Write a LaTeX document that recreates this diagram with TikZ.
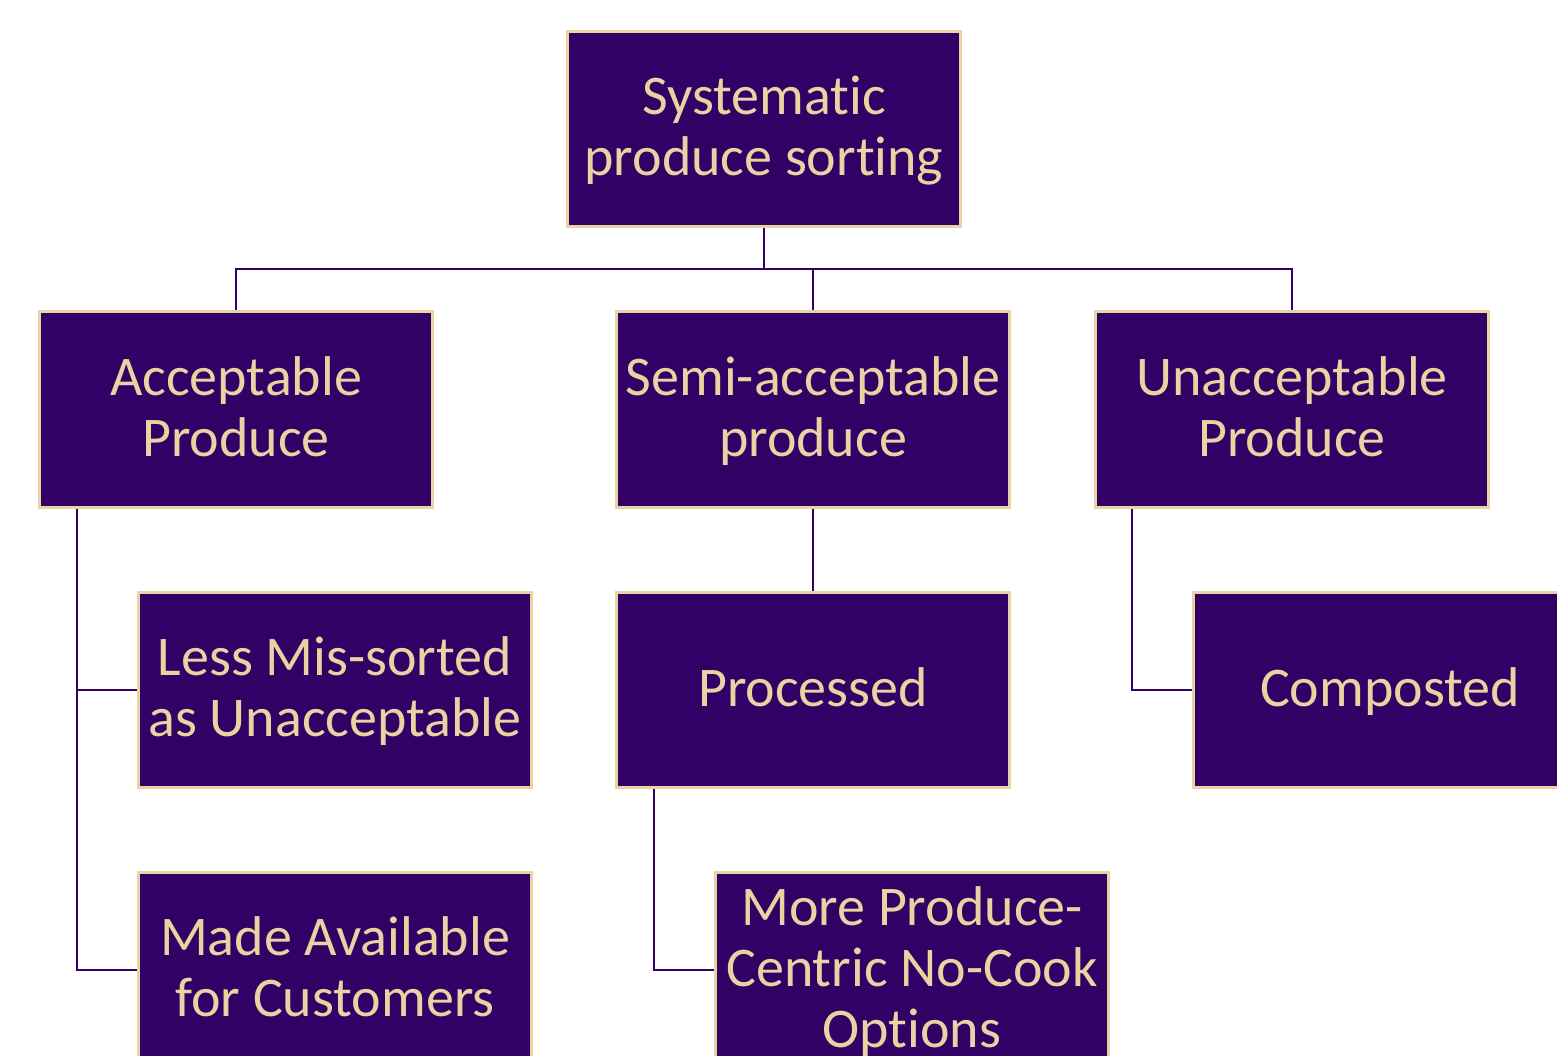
\documentclass[tikz,border=0pt]{standalone}
\usepackage{fontspec}
\setmainfont[Ligatures=NoCommon]{Carlito}
\definecolor{uwpurple}{HTML}{330066}
\definecolor{uwgold}{HTML}{E8D3A2}
\newcommand\fstrut{\rule[-18.3pt]{0pt}{69pt}}
\begin{document}
\begin{tikzpicture}[x=1pt,y=-1pt,
  box/.style={draw=uwgold, line width=3pt, fill=uwpurple, text=uwgold,
    minimum width=393pt, minimum height=195pt, inner sep=0pt, align=center,
    font=\fontsize{56}{61}\selectfont},
  link/.style={draw=uwpurple, line width=2.5pt}]
\useasboundingbox (0,0) rectangle (1557,1056);
\clip (0,0) rectangle (1557,1056);
\node[box] (top) at (764,129) {\fstrut Systematic\\\strut produce sorting};
\node[box] (acc) at (236,409.5) {\fstrut Acceptable\\\strut Produce};
\node[box] (semi) at (813,409.5) {\fstrut Semi-acceptable\\\strut produce};
\node[box] (unacc) at (1292,409.5) {\fstrut Unacceptable\\\strut Produce};
\node[box] (less) at (335,690) {\fstrut Less Mis-sorted\\\strut as Unacceptable};
\node[box] (proc) at (813,690) {\fstrut Processed};
\node[box] (comp) at (1390,690) {\fstrut Composted};
\node[box] (made) at (335,970) {\fstrut Made Available\\\strut for Customers};
\node[box] (more) at (912,970) {\fstrut More Produce-\\\strut Centric No-Cook\\\strut Options};
\coordinate (bus) at (764,269);
\draw[link] (top.south) -- (bus);
\draw[link] (bus) -| (acc.north);
\draw[link] (bus) -| (semi.north);
\draw[link] (bus) -| (unacc.north);
\draw[link] (semi.south) -- (proc.north);
\draw[link] ([xshift=39pt]acc.south west) |- (less.west);
\draw[link] ([xshift=39pt]acc.south west) |- (made.west);
\draw[link] ([xshift=38pt]unacc.south west) |- (comp.west);
\draw[link] ([xshift=39pt]proc.south west) |- (more.west);
\end{tikzpicture}
\end{document}
